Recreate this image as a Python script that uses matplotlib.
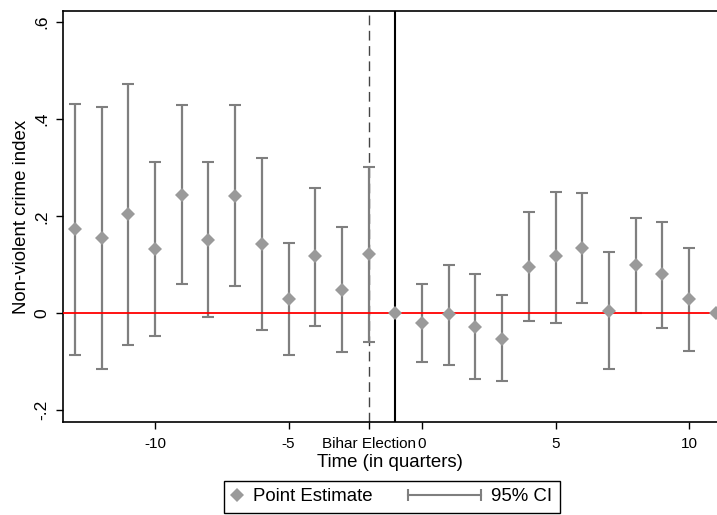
import numpy as np
import matplotlib
matplotlib.use("Agg")
import matplotlib.pyplot as plt
from matplotlib.lines import Line2D
from matplotlib.legend_handler import HandlerBase, HandlerLine2D

plt.rcParams['font.family'] = ['Liberation Sans', 'DejaVu Sans']

# quarters relative to the election, -1 is the omitted reference period
quarters = [-13, -12, -11, -10, -9, -8, -7, -6, -5, -4, -3, -2, -1,
            0, 1, 2, 3, 4, 5, 6, 7, 8, 9, 10, 11]
estimate = [0.173, 0.155, 0.204, 0.132, 0.244, 0.152, 0.242, 0.143, 0.030, 0.118, 0.049, 0.122, 0.0,
            -0.021, -0.002, -0.028, -0.052, 0.096, 0.119, 0.134, 0.005, 0.100, 0.080, 0.029, 0.0]
ci_low = [-0.085, -0.115, -0.066, -0.047, 0.060, -0.008, 0.057, -0.034, -0.085, -0.026, -0.079, -0.059, np.nan,
          -0.100, -0.107, -0.136, -0.139, -0.016, -0.019, 0.021, -0.115, 0.001, -0.030, -0.077, np.nan]
ci_high = [0.432, 0.425, 0.473, 0.311, 0.429, 0.312, 0.429, 0.320, 0.145, 0.259, 0.177, 0.302, np.nan,
           0.060, 0.100, 0.081, 0.037, 0.208, 0.251, 0.247, 0.126, 0.197, 0.188, 0.135, np.nan]

x_ticks = [-10, -5, -2, 0, 5, 10]
x_ticklabels = ['-10', '-5', 'Bihar Election', '0', '5', '10']
y_ticks = [-0.2, 0, 0.2, 0.4, 0.6]
y_ticklabels = ['-.2', '0', '.2', '.4', '.6']

election_q = -2
reference_q = -1

line_grey = '#7f7f7f'
marker_grey = '#9a9a9a'


class CIHandler(HandlerBase):
    # horizontal capped bar, drawn a bit wider than the handle box
    def create_artists(self, legend, orig_handle, xdescent, ydescent,
                       width, height, fontsize, trans):
        y = (height - ydescent) / 2.0
        x1 = width - xdescent
        x0 = x1 - 52
        bar = Line2D([x0, x1], [y, y], color=line_grey, lw=1.5)
        caps = Line2D([x0, x1], [y, y], ls='none', marker='|', ms=8,
                      mew=1.5, color=line_grey)
        bar.set_transform(trans)
        caps.set_transform(trans)
        return [bar, caps]


x = np.array(quarters)
est = np.array(estimate)
lo = np.array(ci_low)
hi = np.array(ci_high)
has_ci = ~np.isnan(lo)

fig = plt.figure(figsize=(7.17, 5.15), dpi=100)
ax = fig.add_axes([63 / 717, 1 - 422 / 515, 1 - 63 / 717, (422 - 11) / 515])

ax.axvline(election_q, color='#444444', lw=1.0, ls=(0, (7, 4)), zorder=1)
ax.axvline(reference_q, color='black', lw=1.5, zorder=1)

ax.errorbar(x[has_ci], est[has_ci],
            yerr=[est[has_ci] - lo[has_ci], hi[has_ci] - est[has_ci]],
            fmt='none', ecolor=line_grey, elinewidth=1.6, capsize=4,
            capthick=1.5, zorder=2)
ax.axhline(0, color='red', lw=1.3, zorder=3)
pts, = ax.plot(x, est, 'D', color=marker_grey, ms=7.2, mew=0, zorder=4)

ax.set_xlim(-13.45, 11.05)
ax.set_ylim(-0.224, 0.623)

ax.set_xticks(x_ticks)
ax.set_xticklabels(x_ticklabels)
ax.set_yticks(y_ticks)
ax.set_yticklabels(y_ticklabels, rotation=90, va='center')
ax.tick_params(axis='x', labelsize=11, length=5, width=1, pad=6)
ax.tick_params(axis='y', labelsize=12.5, length=5, width=1, pad=5)

ax.spines['right'].set_visible(False)
for s in ('left', 'top', 'bottom'):
    ax.spines[s].set_linewidth(1.2)

ax.set_xlabel('Time (in quarters)', fontsize=13.4, labelpad=2)
ax.set_ylabel('Non-violent crime index', fontsize=13.4, labelpad=3)

ci_handle = Line2D([], [], color=line_grey)
leg = fig.legend([pts, ci_handle], ['Point Estimate', '95% CI'],
                 handler_map={pts: HandlerLine2D(numpoints=1), ci_handle: CIHandler()},
                 loc='upper left', bbox_to_anchor=(224 / 717, 1 - 481 / 515),
                 ncol=2, fontsize=13.4, handlelength=0.6, handletextpad=0.56,
                 columnspacing=5.2, borderaxespad=0, fancybox=False,
                 framealpha=1, edgecolor='black')
leg.get_frame().set_linewidth(1.0)

fig.savefig('out.png', dpi=100)
